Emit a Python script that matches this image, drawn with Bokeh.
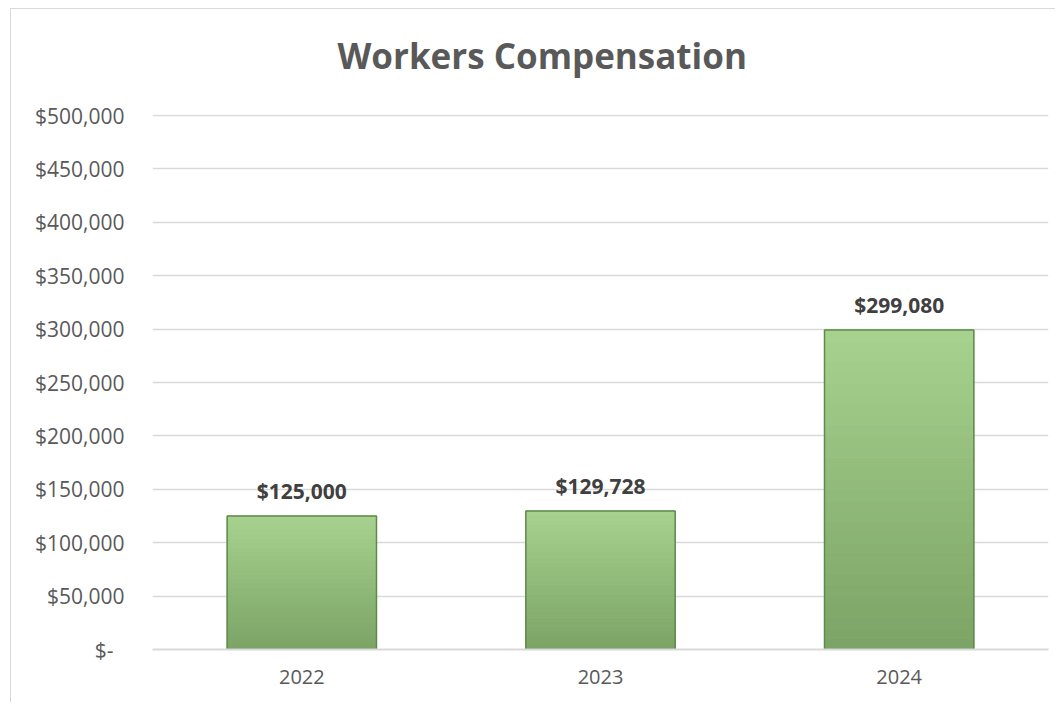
from bokeh.plotting import figure
from bokeh.models import FixedTicker, CustomJSTickFormatter, ColumnDataSource, LabelSet, Title, FactorRange, Range1d
from bokeh.core.properties import value
from bokeh.embed import file_html
from bokeh.resources import INLINE

years = ["2022", "2023", "2024"]
values = [125000, 129728, 299080]
labels = ["$125,000", "$129,728", "$299,080"]
y_ticks = [0, 50000, 100000, 150000, 200000, 250000, 300000, 350000, 400000, 450000, 500000]
title_text = "Workers Compensation"

FONT = "Open Sans"

p = figure(width=1045, height=694, x_range=FactorRange(*years, range_padding=0),
           y_range=Range1d(0, 501000), output_backend="svg", toolbar_location=None,
           min_border_left=141, min_border_right=8, min_border_bottom=54, min_border_top=105)
p.title = None
p.margin = (8, 0, 0, 10)
# spacer between frame and title, then the title
p.add_layout(Title(text=" ", text_font_size="1px", standoff=33), "above")
p.add_layout(Title(text=title_text, align="left", offset=185, standoff=0,
                   text_font=FONT, text_font_size="35px", text_font_style="bold",
                   text_color="#595959"), "above")
p.styles = {"border-left": "1.5px solid #d9d9d9", "border-top": "1.5px solid #d9d9d9"}
p.outline_line_color = None
p.background_fill_color = "white"
p.border_fill_color = "white"

# gradient bars built from strips of each value
def lerp(c1, c2, t):
    a = [int(c1[i:i+2], 16) for i in (1, 3, 5)]
    b = [int(c2[i:i+2], 16) for i in (1, 3, 5)]
    return "#%02x%02x%02x" % tuple(round(a[k] + (b[k] - a[k]) * t) for k in range(3))

n = 30
xs, bots, tops, cols = [], [], [], []
for yr, v in zip(years, values):
    for i in range(n):
        xs.append(yr)
        bots.append(v * i / n)
        tops.append(v * (i + 1) / n)
        cols.append(lerp("#7ca466", "#a6d18e", i / (n - 1)))
p.vbar(x=xs, bottom=bots, top=tops, width=0.5, fill_color=cols, line_color=cols, line_width=1)
p.vbar(x=years, top=values, width=0.5, fill_color=None, line_color="#5f8a4c", line_width=1.5)

src = ColumnDataSource(dict(x=years, y=values, t=labels))
p.add_layout(LabelSet(x="x", y="y", text="t", source=src, y_offset=25, text_align="center",
                      text_baseline="middle", text_font=value(FONT), text_font_size=value("21px"),
                      text_font_style="bold", text_color="#404040"))

p.yaxis.ticker = FixedTicker(ticks=y_ticks)
p.yaxis.formatter = CustomJSTickFormatter(code="""
if (tick == 0) { return "$-\u00a0\u00a0"; }
return "$" + tick.toLocaleString("en-US");
""")
p.yaxis.axis_line_color = None
p.yaxis.major_tick_line_color = None
p.yaxis.minor_tick_line_color = None
p.yaxis.major_tick_out = 0
p.yaxis.major_tick_in = 0
p.yaxis.minor_tick_out = 0
p.yaxis.major_label_standoff = 28
p.yaxis.major_label_text_font = FONT
p.yaxis.major_label_text_font_size = "21px"
p.yaxis.major_label_text_color = "#595959"

p.xaxis.axis_line_color = "#d9d9d9"
p.xaxis.axis_line_width = 2
p.xaxis.major_tick_line_color = None
p.xaxis.minor_tick_line_color = None
p.xaxis.major_tick_out = 0
p.xaxis.major_tick_in = 0
p.xaxis.major_label_standoff = 20
p.xaxis.major_label_text_font = FONT
p.xaxis.major_label_text_font_size = "20px"
p.xaxis.major_label_text_color = "#595959"

p.xgrid.grid_line_color = None
p.ygrid.grid_line_color = "#d9d9d9"
p.ygrid.grid_line_width = 1.5

open("out.html", "w").write(file_html(p, INLINE))
